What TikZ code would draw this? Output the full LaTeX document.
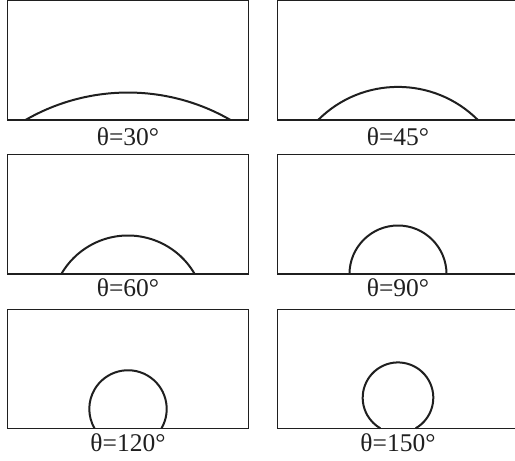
\documentclass[tikz,border=0pt]{standalone}
\usepackage{fontspec}
\setmainfont{Liberation Serif}
\begin{document}
\begin{tikzpicture}[x=1pt,y=1pt,
  frame/.style={line width=1.2pt, draw=black!88},
  drop/.style={line width=2pt, draw=black!88},
  lab/.style={anchor=base, inner sep=0pt, text=black!88, font=\fontsize{25.5}{30}\selectfont}]
\useasboundingbox (0,0) rectangle (515,-461);
\clip (0,0) rectangle (515,-461);
\foreach \cx/\tp/\yb/\ybl/\ang/\rad [count=\i] in {
  128/0.6/120/145/30/205,
  398/0.6/120/145/45/113,
  128/154.3/274/296.7/60/77,
  398/154.3/274/296.7/90/48.5,
  128/309.3/428.3/451.7/120/38.7,
  398/309.3/428.3/451.7/150/35.3}{
  \draw[frame] (\cx-120.7,-\tp) rectangle (\cx+120.7,-\yb);
  \draw[drop] ({\cx+\rad*sin(\ang)},-\yb) arc[start angle={90-\ang}, end angle={90+\ang}, radius=\rad pt];
  \node[lab] (l\i) at (\cx,-\ybl) {θ=\ang°};
}
\end{tikzpicture}
\end{document}
